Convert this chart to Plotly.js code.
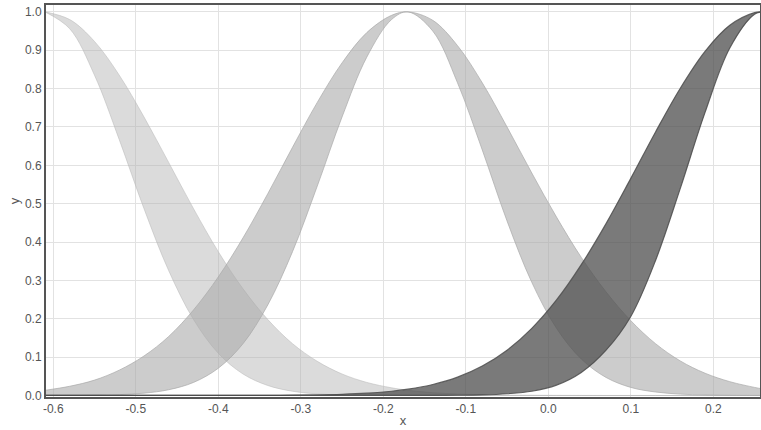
<!DOCTYPE html>
<html>
<head>
<meta charset="utf-8">
<script src="https://cdn.plot.ly/plotly-3.0.1.min.js"></script>
<style>html,body{margin:0;padding:0;background:#fff;}#chart{width:761px;height:430px;}</style>
</head>
<body>
<div id="chart"></div>
<script>
// shared x positions
var xs = [-0.61,-0.58,-0.55,-0.52,-0.49,-0.46,-0.43,-0.40,-0.37,-0.34,-0.31,-0.28,-0.25,-0.22,-0.19,-0.17,-0.14,-0.11,-0.08,-0.05,-0.02,0.01,0.04,0.07,0.10,0.13,0.16,0.19,0.22,0.25,0.26];

// band 1 (light, peak at left edge)
var band1Low  = [1,0.956,0.835,0.667,0.487,0.325,0.198,0.110,0.056,0.026,0.011,0.004,0.0015,0.0005,0.0002,0.0001,0,0,0,0,0,0,0,0,0,0,0,0,0,0,0];
var band1High = [1,0.980,0.923,0.835,0.726,0.607,0.487,0.375,0.278,0.198,0.135,0.089,0.056,0.034,0.020,0.0135,0.0074,0.0039,0.0019,0.0009,0.0004,0.0002,0.0001,0,0,0,0,0,0,0,0];

// band 2 (middle)
var band2Low  = [0.0001,0.0002,0.0007,0.0022,0.006,0.015,0.034,0.071,0.135,0.236,0.375,0.546,0.726,0.882,0.980,1,0.950,0.815,0.640,0.455,0.295,0.175,0.095,0.047,0.021,0.009,0.0035,0.0012,0.0004,0.0001,0.0001];
var band2High = [0.0135,0.024,0.040,0.066,0.103,0.154,0.223,0.309,0.411,0.526,0.647,0.764,0.867,0.946,0.991,1,0.978,0.912,0.815,0.700,0.580,0.465,0.360,0.270,0.195,0.135,0.090,0.058,0.036,0.021,0.017];

// band 3 (dark, peak at right edge)
var band3Low  = [0,0,0,0,0,0,0,0,0,0,0,0,0,0,0,0.0001,0.0002,0.0005,0.0015,0.0045,0.011,0.027,0.060,0.118,0.206,0.352,0.540,0.738,0.906,0.994,1];
var band3High = [0,0,0,0,0,0,0,0,0.0002,0.0003,0.0007,0.0015,0.0031,0.006,0.011,0.0164,0.0286,0.0477,0.0766,0.118,0.175,0.249,0.341,0.448,0.566,0.687,0.801,0.897,0.965,0.998,1];

var xTicks = [-0.6,-0.5,-0.4,-0.3,-0.2,-0.1,0.0,0.1,0.2];
var xTickText = ['-0.6','-0.5','-0.4','-0.3','-0.2','-0.1','0.0','0.1','0.2'];
var yTicks = [0,0.1,0.2,0.3,0.4,0.5,0.6,0.7,0.8,0.9,1.0];
var yTickText = ['0.0','0.1','0.2','0.3','0.4','0.5','0.6','0.7','0.8','0.9','1.0'];

function band(low, high, fill, edge, w) {
  return [
    {x: xs, y: low, type: 'scatter', mode: 'lines', line: {color: edge, width: w, shape: 'spline', smoothing: 1}, hoverinfo: 'skip', showlegend: false},
    {x: xs, y: high, type: 'scatter', mode: 'lines', fill: 'tonexty', fillcolor: fill, line: {color: edge, width: w, shape: 'spline', smoothing: 1}, hoverinfo: 'skip', showlegend: false}
  ];
}

var data = [].concat(
  band(band1Low, band1High, 'rgba(175,175,175,0.45)', 'rgba(185,185,185,0.55)', 1),
  band(band2Low, band2High, 'rgba(170,170,170,0.6)', 'rgba(170,170,170,0.7)', 1),
  band(band3Low, band3High, 'rgba(80,80,80,0.76)', 'rgba(75,75,75,0.85)', 1.2)
);

var layout = {
  width: 761, height: 430,
  margin: {l: 46, r: 1, t: 5, b: 33},
  paper_bgcolor: '#fff', plot_bgcolor: '#fff',
  font: {family: 'Arial, "Liberation Sans", sans-serif', size: 12, color: '#555'},
  xaxis: {
    range: [-0.6088, 0.2566], tickvals: xTicks, ticktext: xTickText,
    showgrid: true, gridcolor: '#e2e2e2', gridwidth: 1, zeroline: false,
    showline: true, mirror: true, linecolor: '#555', linewidth: 2,
    ticks: '', tickfont: {size: 12, color: '#555'},
    title: {text: 'x', font: {size: 13, color: '#555'}, standoff: 0}
  },
  yaxis: {
    range: [-0.004, 1.018], tickvals: yTicks, ticktext: yTickText,
    showgrid: true, gridcolor: '#e2e2e2', gridwidth: 1, zeroline: false,
    showline: true, mirror: true, linecolor: '#555', linewidth: 2,
    ticks: '', tickfont: {size: 12, color: '#555'},
    title: {text: 'y', font: {size: 13, color: '#555'}, standoff: 2}
  }
};

Plotly.newPlot('chart', data, layout, {displayModeBar: false, staticPlot: true});
</script>
</body>
</html>
